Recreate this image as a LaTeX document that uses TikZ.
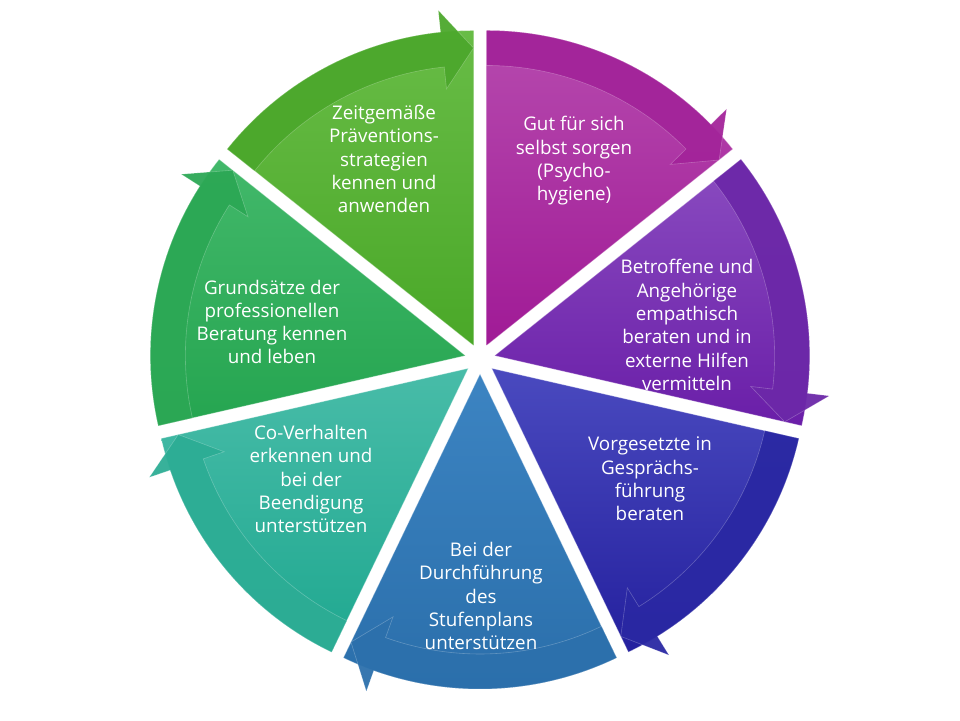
\documentclass[tikz,border=0pt]{standalone}
\usepackage{fontspec}
\setmainfont{Open Sans}
\usepackage{xcolor}
\usepackage{tikz}
\usetikzlibrary{calc}

\definecolor{magTop}{HTML}{B64AAE}
\definecolor{magBot}{HTML}{A01A96}
\definecolor{magBand}{HTML}{A3249A}
\definecolor{purTop}{HTML}{8A4CC0}
\definecolor{purBot}{HTML}{6A1EA8}
\definecolor{purBand}{HTML}{6C28A8}
\definecolor{indTop}{HTML}{4A4ABF}
\definecolor{indBot}{HTML}{24209E}
\definecolor{indBand}{HTML}{2A28A3}
\definecolor{bluTop}{HTML}{3C84C2}
\definecolor{bluBot}{HTML}{2A6EAA}
\definecolor{bluBand}{HTML}{2C70AC}
\definecolor{teaTop}{HTML}{48BCA8}
\definecolor{teaBot}{HTML}{1FA890}
\definecolor{teaBand}{HTML}{2DAD95}
\definecolor{grnTop}{HTML}{42B86A}
\definecolor{grnBot}{HTML}{25A550}
\definecolor{grnBand}{HTML}{2CA855}
\definecolor{limTop}{HTML}{68BC46}
\definecolor{limBot}{HTML}{4AA828}
\definecolor{limBand}{HTML}{4CA82C}

\tikzset{
  label/.style={text=white,align=center,font=\fontsize{18.8}{23.3}\selectfont},
  band/.style={fill opacity=0.95,draw=white,draw opacity=0.25,line width=0.6pt},
  wedge/.style={draw=white,draw opacity=0.35,line width=0.8pt}
}

\begin{document}
\begin{tikzpicture}[x=1pt,y=1pt]
\useasboundingbox (0,0) rectangle (960,720);
% segment 1
\begin{scope}[shift={(480,361)},shift={(64.29:15pt)}]
\shade[wedge,top color=magTop,bottom color=magBot] (0,0) -- (90:315pt) arc[start angle=90,end angle=38.57,radius=315pt] -- cycle;
\fill[band,fill=magBand] (90:280pt) -- (90:315pt) arc[start angle=90,end angle=44.57,radius=315pt] -- (44.57:337pt) -- (38.57:297.5pt) -- (44.57:258pt) -- (44.57:280pt) arc[start angle=44.57,end angle=90,radius=280pt] -- cycle;
\end{scope}
% segment 2
\begin{scope}[shift={(480,361)},shift={(12.86:15pt)}]
\shade[wedge,top color=purTop,bottom color=purBot] (0,0) -- (38.57:315pt) arc[start angle=38.57,end angle=-12.86,radius=315pt] -- cycle;
\fill[band,fill=purBand] (38.57:280pt) -- (38.57:315pt) arc[start angle=38.57,end angle=-6.86,radius=315pt] -- (-6.86:337pt) -- (-12.86:297.5pt) -- (-6.86:258pt) -- (-6.86:280pt) arc[start angle=-6.86,end angle=38.57,radius=280pt] -- cycle;
\end{scope}
% segment 3
\begin{scope}[shift={(480,361)},shift={(-38.57:15pt)}]
\shade[wedge,top color=indTop,bottom color=indBot] (0,0) -- (-12.86:315pt) arc[start angle=-12.86,end angle=-64.29,radius=315pt] -- cycle;
\fill[band,fill=indBand] (-12.86:280pt) -- (-12.86:315pt) arc[start angle=-12.86,end angle=-58.29,radius=315pt] -- (-58.29:337pt) -- (-64.29:297.5pt) -- (-58.29:258pt) -- (-58.29:280pt) arc[start angle=-58.29,end angle=-12.86,radius=280pt] -- cycle;
\end{scope}
% segment 4
\begin{scope}[shift={(480,361)},shift={(-90:15pt)}]
\shade[wedge,top color=bluTop,bottom color=bluBot] (0,0) -- (-64.29:315pt) arc[start angle=-64.29,end angle=-115.71,radius=315pt] -- cycle;
\fill[band,fill=bluBand] (-64.29:280pt) -- (-64.29:315pt) arc[start angle=-64.29,end angle=-109.71,radius=315pt] -- (-109.71:337pt) -- (-115.71:297.5pt) -- (-109.71:258pt) -- (-109.71:280pt) arc[start angle=-109.71,end angle=-64.29,radius=280pt] -- cycle;
\end{scope}
% segment 5
\begin{scope}[shift={(480,361)},shift={(-141.43:15pt)}]
\shade[wedge,top color=teaTop,bottom color=teaBot] (0,0) -- (-115.71:315pt) arc[start angle=-115.71,end angle=-167.14,radius=315pt] -- cycle;
\fill[band,fill=teaBand] (-115.71:280pt) -- (-115.71:315pt) arc[start angle=-115.71,end angle=-161.14,radius=315pt] -- (-161.14:337pt) -- (-167.14:297.5pt) -- (-161.14:258pt) -- (-161.14:280pt) arc[start angle=-161.14,end angle=-115.71,radius=280pt] -- cycle;
\end{scope}
% segment 6
\begin{scope}[shift={(480,361)},shift={(-192.86:15pt)}]
\shade[wedge,top color=grnTop,bottom color=grnBot] (0,0) -- (-167.14:315pt) arc[start angle=-167.14,end angle=-218.57,radius=315pt] -- cycle;
\fill[band,fill=grnBand] (-167.14:280pt) -- (-167.14:315pt) arc[start angle=-167.14,end angle=-212.57,radius=315pt] -- (-212.57:337pt) -- (-218.57:297.5pt) -- (-212.57:258pt) -- (-212.57:280pt) arc[start angle=-212.57,end angle=-167.14,radius=280pt] -- cycle;
\end{scope}
% segment 7
\begin{scope}[shift={(480,361)},shift={(-244.29:15pt)}]
\shade[wedge,top color=limTop,bottom color=limBot] (0,0) -- (-218.57:315pt) arc[start angle=-218.57,end angle=-270,radius=315pt] -- cycle;
\fill[band,fill=limBand] (-218.57:280pt) -- (-218.57:315pt) arc[start angle=-218.57,end angle=-264,radius=315pt] -- (-264:337pt) -- (-270:297.5pt) -- (-264:258pt) -- (-264:280pt) arc[start angle=-264,end angle=-218.57,radius=280pt] -- cycle;
\end{scope}
% texts
\node[label] (selbst) at (574,559) {Gut f\"ur sich\\selbst sorgen\\(Psycho-\\hygiene)};
\node[label] (betroffene) at (687,395) {Betroffene und\\Angeh\"orige\\empathisch\\beraten und in\\externe Hilfen\\vermitteln};
\node[label] (vorgesetzte) at (650,241) {Vorgesetzte in\\Gespr\"achs-\\f\"uhrung\\beraten};
\node[label] (stufen) at (481,124) {Bei der\\Durchf\"uhrung\\des\\Stufenplans\\unterst\"utzen};
\node[label] (coverh) at (311,241) {Co-Verhalten\\erkennen und\\bei der\\Beendigung\\unterst\"utzen};
\node[label] (grunds) at (272,398) {Grunds\"atze der\\professionellen\\Beratung kennen\\und leben};
\node[label] (praev) at (384,561) {Zeitgem\"a\ss e\\Pr\"aventions-\\strategien\\kennen und\\anwenden};
\end{tikzpicture}
\end{document}
